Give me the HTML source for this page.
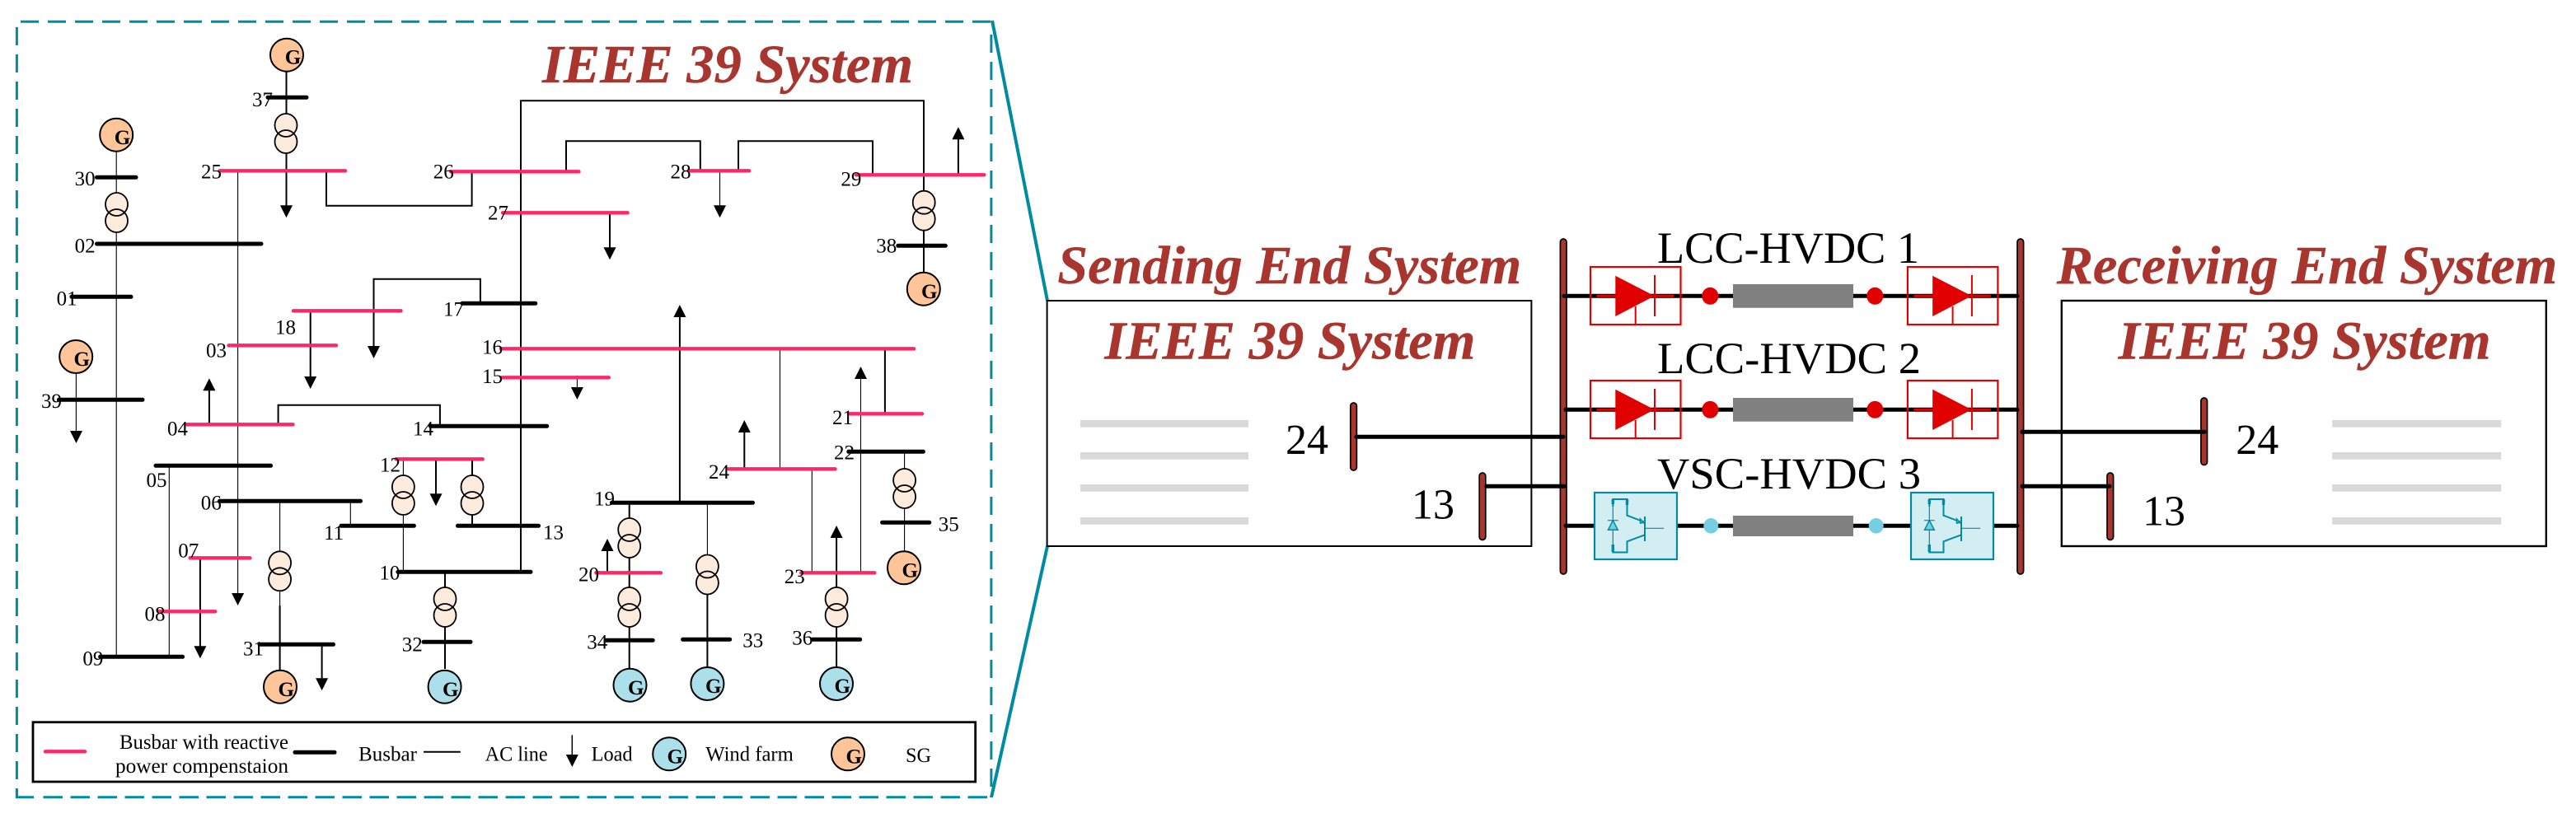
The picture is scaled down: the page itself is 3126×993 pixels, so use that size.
<!DOCTYPE html>
<html>
<head>
<meta charset="utf-8">
<title>IEEE 39 System HVDC diagram</title>
<style>
html,body{margin:0;padding:0;background:#fff;width:3126px;height:993px;overflow:hidden}
svg{display:block}
text{font-family:"Liberation Serif",serif;fill:#000}
.l{font-size:25px}
.g{font-size:25px;font-weight:bold}
.h{font-size:66px;font-weight:bold;font-style:italic;fill:#A8352E;stroke:#A8352E;stroke-width:.4}
.n{font-size:52px}
.hv{font-size:54px}
.p{stroke:#FF2768;stroke-width:4.4;stroke-linecap:round;fill:none}
.b{stroke:#000;stroke-width:5;stroke-linecap:round;fill:none}
.t{stroke:#000;stroke-width:1.1;fill:none}
.m{stroke:#000;stroke-width:2;fill:none}
.o{fill:#FFC598;stroke:#000;stroke-width:2}
.w{fill:#ABE0EB;stroke:#000;stroke-width:2}
.d{stroke:#008BA3;stroke-width:3;fill:none}
.bar{fill:#A8352E;stroke:#000;stroke-width:1.7}
.gr{fill:#D9D9D9}
.c{fill:#808080}
</style>
</head>
<body>
<svg xmlns="http://www.w3.org/2000/svg" width="3126" height="993" viewBox="0 0 3126 993">
<defs>
<path id="ad" d="M-7.5,0H7.5L0,15Z" fill="#000"/>
<path id="au" d="M-7.5,15H7.5L0,0Z" fill="#000"/>
<g id="tr">
<ellipse cx="0" cy="-10" rx="13.5" ry="14" fill="#FDEBDD"/>
<ellipse cx="0" cy="10" rx="13.5" ry="14" fill="#FDEBDD"/>
<ellipse cx="0" cy="-10" rx="13.5" ry="14" fill="none" stroke="#000" stroke-width="1.8"/>
<ellipse cx="0" cy="10" rx="13.5" ry="14" fill="none" stroke="#000" stroke-width="1.8"/>
</g>
<g id="lcc">
<rect x="1930" y="324" width="109.5" height="70" fill="none" stroke="#E10000" stroke-width="2.2"/>
<path d="M1937.5,359.3H2031" stroke="#E10000" stroke-width="3" fill="none"/>
<path d="M1960.3,334.7V384L2007.7,359.3Z" fill="#E10000"/>
<path d="M2008,334V384" stroke="#E10000" stroke-width="2" fill="none"/>
<path d="M1984.7,372V394" stroke="#E10000" stroke-width="2" fill="none"/>
</g>
<g id="vsc">
<rect x="1935" y="598" width="100" height="81" fill="#D3EEF3" stroke="#008BA3" stroke-width="2.2"/>
<path d="M1957.3,606V671M1996,627V657M1996,641.3H2019" stroke="#008BA3" stroke-width="1.2" fill="none"/>
<path d="M1957.3,615V606H1974.5V625.7L1996,634M1996,649.3L1974.5,657.3V670.5H1957.3V661" stroke="#008BA3" stroke-width="2" fill="none"/>
<path d="M1957.3,606V612M1974.5,606V613M1957.3,670V661" stroke="#008BA3" stroke-width="3.4" fill="none"/>
<path d="M1996,627V657" stroke="#008BA3" stroke-width="2" fill="none"/>
<path d="M1990.5,630L1996,636V634L1990.5,635Z" fill="#75CFE0" stroke="#008BA3" stroke-width="1.6"/>
<path d="M1957.3,631.7L1963.3,643.3H1951.5Z" fill="#75CFE0" stroke="#008BA3" stroke-width="1.5"/>
<path d="M1951,631.7H1963.7" stroke="#008BA3" stroke-width="1.2" fill="none"/>
</g>
</defs>

<!-- zoom frame -->
<path class="d" stroke-dasharray="22 11" d="M25,26.3H1203"/>
<path class="d" stroke-dasharray="22 11" d="M20.4,33V968"/>
<path class="d" stroke-dasharray="23.5 9.5" d="M52.5,967.7H1203"/>
<path class="d" d="M20.4,958V967.7H41"/>
<path class="d" stroke-dasharray="22 11" d="M1202.9,42V968"/>
<path stroke="#008BA3" stroke-width="4" fill="none" d="M1204,25L1271,365M1203,968L1271,663"/>

<!-- AC lines -->
<path class="t" d="M141.2,184V797M92.4,453V525M288.6,207V722M205.3,565V797M339.6,608V735M425.3,608V638M489.4,557V694M873.5,207V250M946.5,423V569M985.3,569V695M1044.5,460V695M700.4,456V471M858.4,610V700M1097.6,548V669"/>
<path class="m" d="M347.5,87V250M396,207V249.7H572.6V208M1121,225V122.3H632V694M376.7,377V458M453.5,421V338.7H582.9V368M253.9,474V515M337.6,515V491.7H533.9V517M529,557V600M573,557V638M242.9,677V785M390.6,782V824M540,694V812M740,258V301M687,208V171.3H849.8V207M896,207V171.3H1059V212M1162.9,169V212M1121,225V330M824.9,385V610M1073.9,423V502M903.3,524V569M763.7,610V812M737,668V695M1015.1,652V810M858.4,720V810M339.6,735V813"/>

<!-- arrows -->
<use href="#ad" x="347.5" y="249.3"/>
<use href="#ad" x="288.6" y="720"/>
<use href="#ad" x="376.7" y="457"/>
<use href="#ad" x="453.5" y="420"/>
<use href="#ad" x="92.5" y="523"/>
<use href="#au" x="253.9" y="459.3"/>
<use href="#ad" x="529" y="599.3"/>
<use href="#ad" x="242.9" y="784.3"/>
<use href="#ad" x="390.6" y="823.3"/>
<use href="#ad" x="740" y="300.3"/>
<use href="#ad" x="873.5" y="249.3"/>
<use href="#au" x="1162.9" y="154.3"/>
<use href="#ad" x="700.4" y="470"/>
<use href="#au" x="824.9" y="370"/>
<use href="#au" x="1044.5" y="445"/>
<use href="#au" x="903.3" y="510"/>
<use href="#au" x="737" y="654"/>
<use href="#au" x="1015.1" y="638"/>

<!-- transformers -->
<use href="#tr" x="347" y="162"/>
<use href="#tr" x="141.5" y="258"/>
<use href="#tr" x="489.4" y="601"/>
<use href="#tr" x="573" y="601"/>
<use href="#tr" x="339.6" y="693.3"/>
<use href="#tr" x="540" y="737"/>
<use href="#tr" x="1121.2" y="255.7"/>
<use href="#tr" x="1097.6" y="593"/>
<use href="#tr" x="763.7" y="653"/>
<use href="#tr" x="763.7" y="737"/>
<use href="#tr" x="858.4" y="697.5"/>
<use href="#tr" x="1015.1" y="737"/>

<!-- black buses -->
<path class="b" d="M325,118.3H372M117.5,215.3H165M117.5,296H317M87,360.3H159M71.4,485.3H173M561,368.3H649.8M522.4,517.3H663.7M189,565.3H328.6M266.5,608.3H437.5M414,638.3H502.4M555.5,638.3H653.5M482.9,694.3H644M315,782.3H404.5M121.6,797.3H221.6M514,779.3H571M1089.8,298.3H1147.3M1029.8,548.3H1120.4M1070.6,634.3H1127.8M742.4,610.3H913.5M735.5,777.3H792.2M828.6,776.3H885.7M986,776.3H1043.7"/>
<!-- pink buses -->
<path class="p" d="M266.5,207.3H419M547,208.3H702.4M610,258.3H761.6M277.5,419.3H408M356,377.3H486.5M608,423.3H1109M609,458.3H738.8M225.3,515.3H355.5M480.4,557.3H585.7M230.6,677.3H303.3M192.7,742.3H261.2M836,207.3H909M1038.8,212.3H1194.3M1029.8,502.3H1119M883.7,569.3H1013.5M723.3,695.3H802M972.2,695.3H1061.2"/>

<!-- generators -->
<circle class="o" cx="348" cy="66.7" r="20"/><text class="g" x="345.7" y="77.7">G</text>
<circle class="o" cx="141.2" cy="163.7" r="20"/><text class="g" x="138.8" y="175">G</text>
<circle class="o" cx="92.2" cy="433" r="20"/><text class="g" x="89.5" y="444">G</text>
<circle class="o" cx="340" cy="833.7" r="20"/><text class="g" x="337.5" y="845">G</text>
<circle class="w" cx="539.6" cy="833.7" r="20"/><text class="g" x="537" y="845">G</text>
<circle class="o" cx="1120.8" cy="350.7" r="20"/><text class="g" x="1118" y="362">G</text>
<circle class="o" cx="1097" cy="689.3" r="20"/><text class="g" x="1094.5" y="700.5">G</text>
<circle class="w" cx="764.5" cy="831.7" r="20"/><text class="g" x="762" y="843">G</text>
<circle class="w" cx="858.4" cy="830" r="20"/><text class="g" x="856" y="841">G</text>
<circle class="w" cx="1015" cy="830" r="20"/><text class="g" x="1012.5" y="841">G</text>

<!-- bus labels -->
<text class="l" x="306" y="129">37</text>
<text class="l" x="90.6" y="225">30</text>
<text class="l" x="244" y="216.7">25</text>
<text class="l" x="525.7" y="216.7">26</text>
<text class="l" x="592" y="266.7">27</text>
<text class="l" x="90.6" y="306.7">02</text>
<text class="l" x="68.6" y="370.7">01</text>
<text class="l" x="50" y="495">39</text>
<text class="l" x="250" y="433.3">03</text>
<text class="l" x="334" y="405.7">18</text>
<text class="l" x="538" y="383.3">17</text>
<text class="l" x="585" y="429.3">16</text>
<text class="l" x="585" y="465">15</text>
<text class="l" x="203" y="528.3">04</text>
<text class="l" x="501" y="528.3">14</text>
<text class="l" x="461" y="572.7">12</text>
<text class="l" x="177.5" y="591">05</text>
<text class="l" x="243.7" y="618.3">06</text>
<text class="l" x="393" y="655">11</text>
<text class="l" x="659" y="654.3">13</text>
<text class="l" x="460.4" y="703.3">10</text>
<text class="l" x="295" y="795.7">31</text>
<text class="l" x="216.3" y="676.7">07</text>
<text class="l" x="175.5" y="753.3">08</text>
<text class="l" x="100.4" y="807.3">09</text>
<text class="l" x="487.8" y="790.7">32</text>
<text class="l" x="813.5" y="216.7">28</text>
<text class="l" x="1020.4" y="225.7">29</text>
<text class="l" x="1063.3" y="306.7">38</text>
<text class="l" x="1010" y="515">21</text>
<text class="l" x="1012" y="557.7">22</text>
<text class="l" x="1138.8" y="644.3">35</text>
<text class="l" x="860" y="581">24</text>
<text class="l" x="721" y="613.7">19</text>
<text class="l" x="702" y="705.7">20</text>
<text class="l" x="712.2" y="787.7">34</text>
<text class="l" x="901.2" y="785.7">33</text>
<text class="l" x="951.8" y="708">23</text>
<text class="l" x="961.2" y="782.7">36</text>

<text class="h" x="658" y="100" textLength="450" lengthAdjust="spacingAndGlyphs">IEEE 39 System</text>

<!-- legend -->
<rect x="40" y="876.7" width="1143.7" height="72.3" fill="none" stroke="#000" stroke-width="2.8"/>
<path class="p" d="M55,912.3H103"/>
<path class="b" d="M358,913.3H406"/>
<path class="m" d="M514,912.7H558.8"/>
<path stroke="#000" stroke-width="1.5" fill="none" d="M694.3,892.3V917"/>
<use href="#ad" x="694.3" y="916"/>
<text class="l" x="145" y="909" textLength="205" lengthAdjust="spacingAndGlyphs">Busbar with reactive</text>
<text class="l" x="140" y="938" textLength="210" lengthAdjust="spacingAndGlyphs">power compenstaion</text>
<text class="l" x="435" y="923.3" textLength="71" lengthAdjust="spacingAndGlyphs">Busbar</text>
<text class="l" x="588.6" y="923.3" textLength="76" lengthAdjust="spacingAndGlyphs">AC line</text>
<text class="l" x="717.6" y="923.3" textLength="50" lengthAdjust="spacingAndGlyphs">Load</text>
<text class="l" x="856.3" y="923.3" textLength="106.5" lengthAdjust="spacingAndGlyphs">Wind farm</text>
<text class="l" x="1099" y="925" textLength="31" lengthAdjust="spacingAndGlyphs">SG</text>
<circle class="w" cx="812.2" cy="915.3" r="20"/><text class="g" x="809.5" y="926.5">G</text>
<circle class="o" cx="1029" cy="915.3" r="20"/><text class="g" x="1026.5" y="926.5">G</text>

<!-- right-hand overview -->
<text class="h" x="1283.3" y="344" textLength="563" lengthAdjust="spacingAndGlyphs">Sending End System</text>
<text class="h" x="2495.7" y="344" textLength="607.7" lengthAdjust="spacingAndGlyphs">Receiving End System</text>
<rect x="1270.6" y="365" width="587.8" height="298" fill="none" stroke="#000" stroke-width="2"/>
<rect x="2501.8" y="365" width="588" height="298" fill="none" stroke="#000" stroke-width="2.4"/>
<text class="h" x="1340.4" y="435.7" textLength="450" lengthAdjust="spacingAndGlyphs">IEEE 39 System</text>
<text class="h" x="2570.6" y="435.7" textLength="452" lengthAdjust="spacingAndGlyphs">IEEE 39 System</text>

<rect class="gr" x="1311" y="510" width="204" height="8.7"/>
<rect class="gr" x="1311" y="549" width="204" height="8.7"/>
<rect class="gr" x="1311" y="588" width="204" height="8.7"/>
<rect class="gr" x="1311" y="628" width="204" height="8.7"/>
<rect class="gr" x="2830.2" y="510" width="205" height="8.7"/>
<rect class="gr" x="2830.2" y="549" width="205" height="8.7"/>
<rect class="gr" x="2830.2" y="588" width="205" height="8.7"/>
<rect class="gr" x="2830.2" y="628" width="205" height="8.7"/>

<text class="n" x="1560" y="551">24</text>
<text class="n" x="1713" y="629.3">13</text>
<text class="n" x="2713.2" y="551">24</text>
<text class="n" x="2600" y="637.3">13</text>

<!-- vertical busbars -->
<rect class="bar" x="1893.4" y="290" width="7.6" height="407" rx="3.8"/>
<rect class="bar" x="2448" y="290" width="7.6" height="407" rx="3.8"/>
<rect class="bar" x="1638.8" y="489" width="7.6" height="82" rx="3.8"/>
<rect class="bar" x="1795.2" y="574" width="7.6" height="81.5" rx="3.8"/>
<rect class="bar" x="2670.9" y="483" width="7.6" height="81.5" rx="3.8"/>
<rect class="bar" x="2557" y="574" width="7.6" height="81.5" rx="3.8"/>

<!-- AC connections -->
<path class="b" d="M1646,530.3H1897M1804,590.3H1898M2454,524.3H2675M2454,590.3H2560"/>

<!-- DC rows -->
<path class="b" d="M1898,359.3H2448M1900,497.3H2448M1900,638.3H2448"/>

<use href="#lcc"/>
<use href="#lcc" x="384.9"/>
<use href="#lcc" y="138"/>
<use href="#lcc" x="384.9" y="138"/>
<use href="#vsc"/>
<use href="#vsc" x="384"/>

<rect class="c" x="2103" y="345" width="146" height="28.7"/>
<rect class="c" x="2103" y="483" width="146" height="28.7"/>
<rect class="c" x="2103" y="626" width="146" height="25"/>

<ellipse cx="2075.3" cy="359.3" rx="10" ry="10.5" fill="#E10000"/>
<ellipse cx="2275.3" cy="359.3" rx="10" ry="10.5" fill="#E10000"/>
<ellipse cx="2075.3" cy="497.3" rx="10" ry="10.5" fill="#E10000"/>
<ellipse cx="2275.3" cy="497.3" rx="10" ry="10.5" fill="#E10000"/>
<ellipse cx="2076.3" cy="638.3" rx="9" ry="9.3" fill="#75CFE0"/>
<ellipse cx="2276.7" cy="638.3" rx="9" ry="9.3" fill="#75CFE0"/>

<text class="hv" x="2011" y="319" textLength="318" lengthAdjust="spacingAndGlyphs">LCC-HVDC 1</text>
<text class="hv" x="2011" y="453" textLength="320" lengthAdjust="spacingAndGlyphs">LCC-HVDC 2</text>
<text class="hv" x="2011" y="593" textLength="320" lengthAdjust="spacingAndGlyphs">VSC-HVDC 3</text>
</svg>
</body>
</html>
